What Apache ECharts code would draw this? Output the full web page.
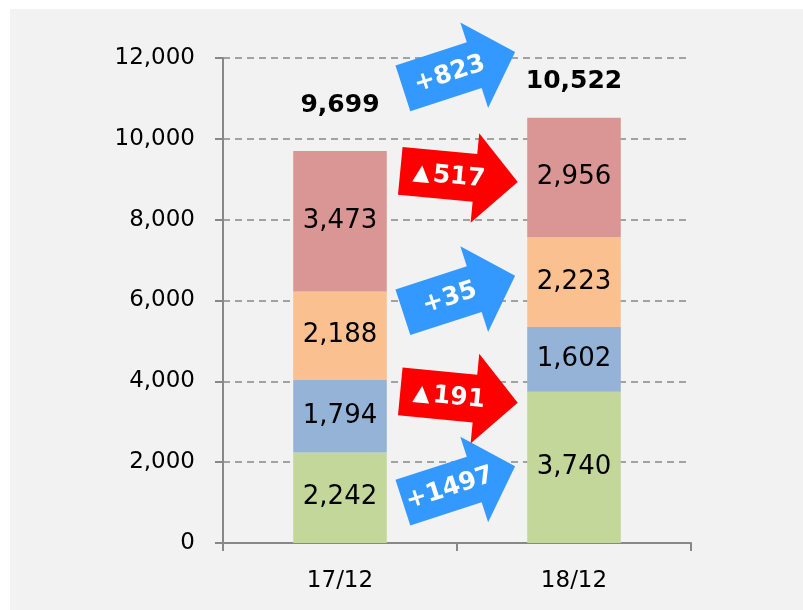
<!DOCTYPE html>
<html>
<head>
<meta charset="utf-8">
<script src="https://cdn.jsdelivr.net/npm/echarts@6/dist/echarts.min.js"></script>
<style>
	body { margin: 0; background: #fff; }
	#chart1 { position: absolute; left: 10px; top: 9px; width: 793px; height: 601px; background: #f2f2f2; }
</style>
</head>
<body>
<div id="chart1"></div>
<script>
//年月类别
var categories = ["17/12", "18/12"];

//堆叠各段（由下往上）
var segA = [2242, 3740];
var segB = [1794, 1602];
var segC = [2188, 2223];
var segD = [3473, 2956];

//合计（图上标注值）
var totals = [9699, 10522];

//箭头：文字、所在纵轴值、是否增加
var arrowLabels = ["+1497", "▲191", "+35", "▲517", "+823"];
var arrowAt = [1450, 3610, 6160, 9070, 11700];
var arrowUp = [true, false, true, false, true];

/**********************************************/
var chart = echarts.init(document.getElementById("chart1"));

var FONT = "'DejaVu Sans', Verdana, sans-serif";
var fmt = function (v) { return echarts.format.addCommas(v); };

var segColors = ["#c4d79b", "#95b3d7", "#fac090", "#da9694"];

function segSeries(data, color) {
	return {
		type: "bar",
		stack: "all",
		barWidth: "40%",
		data: data,
		itemStyle: { color: color },
		silent: true,
		label: {
			show: true,
			position: "inside",
			color: "#000",
			fontFamily: FONT,
			fontSize: 26,
			formatter: function (p) { return fmt(p.value); }
		}
	};
}

//箭头形状（中心为原点，朝右）
var arrowPts = [[-59, -24], [16, -24], [16, -45], [59, 0], [16, 45], [16, 24], [-59, 24]];

var option = {
	animation: false,
	grid: { left: 213, right: 112, top: 49, bottom: 67 },
	xAxis: [{
		type: "category",
		data: categories,
		axisLine: { lineStyle: { color: "#888", width: 2 } },
		axisTick: { show: true, length: 8, lineStyle: { color: "#888", width: 2 } },
		axisLabel: { color: "#000", fontFamily: FONT, fontSize: 23, margin: 27 }
	}],
	yAxis: [{
		type: "value",
		min: 0,
		max: 12000,
		interval: 2000,
		axisLine: { show: true, lineStyle: { color: "#888", width: 2 } },
		axisTick: { show: true, length: 8, lineStyle: { color: "#888", width: 2 } },
		axisLabel: { color: "#000", fontFamily: FONT, fontSize: 23, margin: 28, formatter: fmt },
		splitLine: { lineStyle: { color: "#888", width: 1.5, type: [7, 5] } }
	}],
	series: [
		segSeries(segA, segColors[0]),
		segSeries(segB, segColors[1]),
		segSeries(segC, segColors[2]),
		segSeries(segD, segColors[3]),
		{
			//合计标注
			type: "scatter",
			symbolSize: 0,
			silent: true,
			itemStyle: { opacity: 1 },
			data: totals.map(function (v, i) {
				return { value: [i, v], label: { distance: i === 0 ? 33 : 24 } };
			}),
			label: {
				show: true,
				position: "top",
				color: "#000",
				fontFamily: FONT,
				fontSize: 25,
				fontWeight: "bold",
				formatter: function (p) { return fmt(totals[p.dataIndex]); }
			}
		},
		{
			//增减箭头
			type: "custom",
			silent: true,
			z: 10,
			data: arrowAt.map(function (v, i) { return [0, v, i]; }),
			encode: { x: 0, y: 1 },
			renderItem: function (params, api) {
				var y = api.value(1);
				var i = api.value(2);
				var p0 = api.coord([0, y]);
				var p1 = api.coord([1, y]);
				var up = arrowUp[i];
				var txt = arrowLabels[i].replace("▲", "{t|▲}");
				return {
					type: "group",
					x: (p0[0] + p1[0]) / 2 + 2,
					y: p0[1],
					rotation: (up ? 18 : -5.5) * Math.PI / 180,
					children: [{
						type: "polygon",
						shape: { points: arrowPts },
						style: { fill: up ? "#3399ff" : "#ff0000" }
					}, {
						type: "text",
						style: {
							text: txt,
							x: -10,
							y: 1,
							fill: "#fff",
							font: "bold 25px " + FONT,
							align: "center",
							verticalAlign: "middle",
							rich: { t: { fontFamily: FONT, fontSize: 22, fill: "#fff", padding: [0, 3, 0, 0] } }
						}
					}]
				};
			}
		}
	]
};

chart.setOption(option);
</script>
</body>
</html>
